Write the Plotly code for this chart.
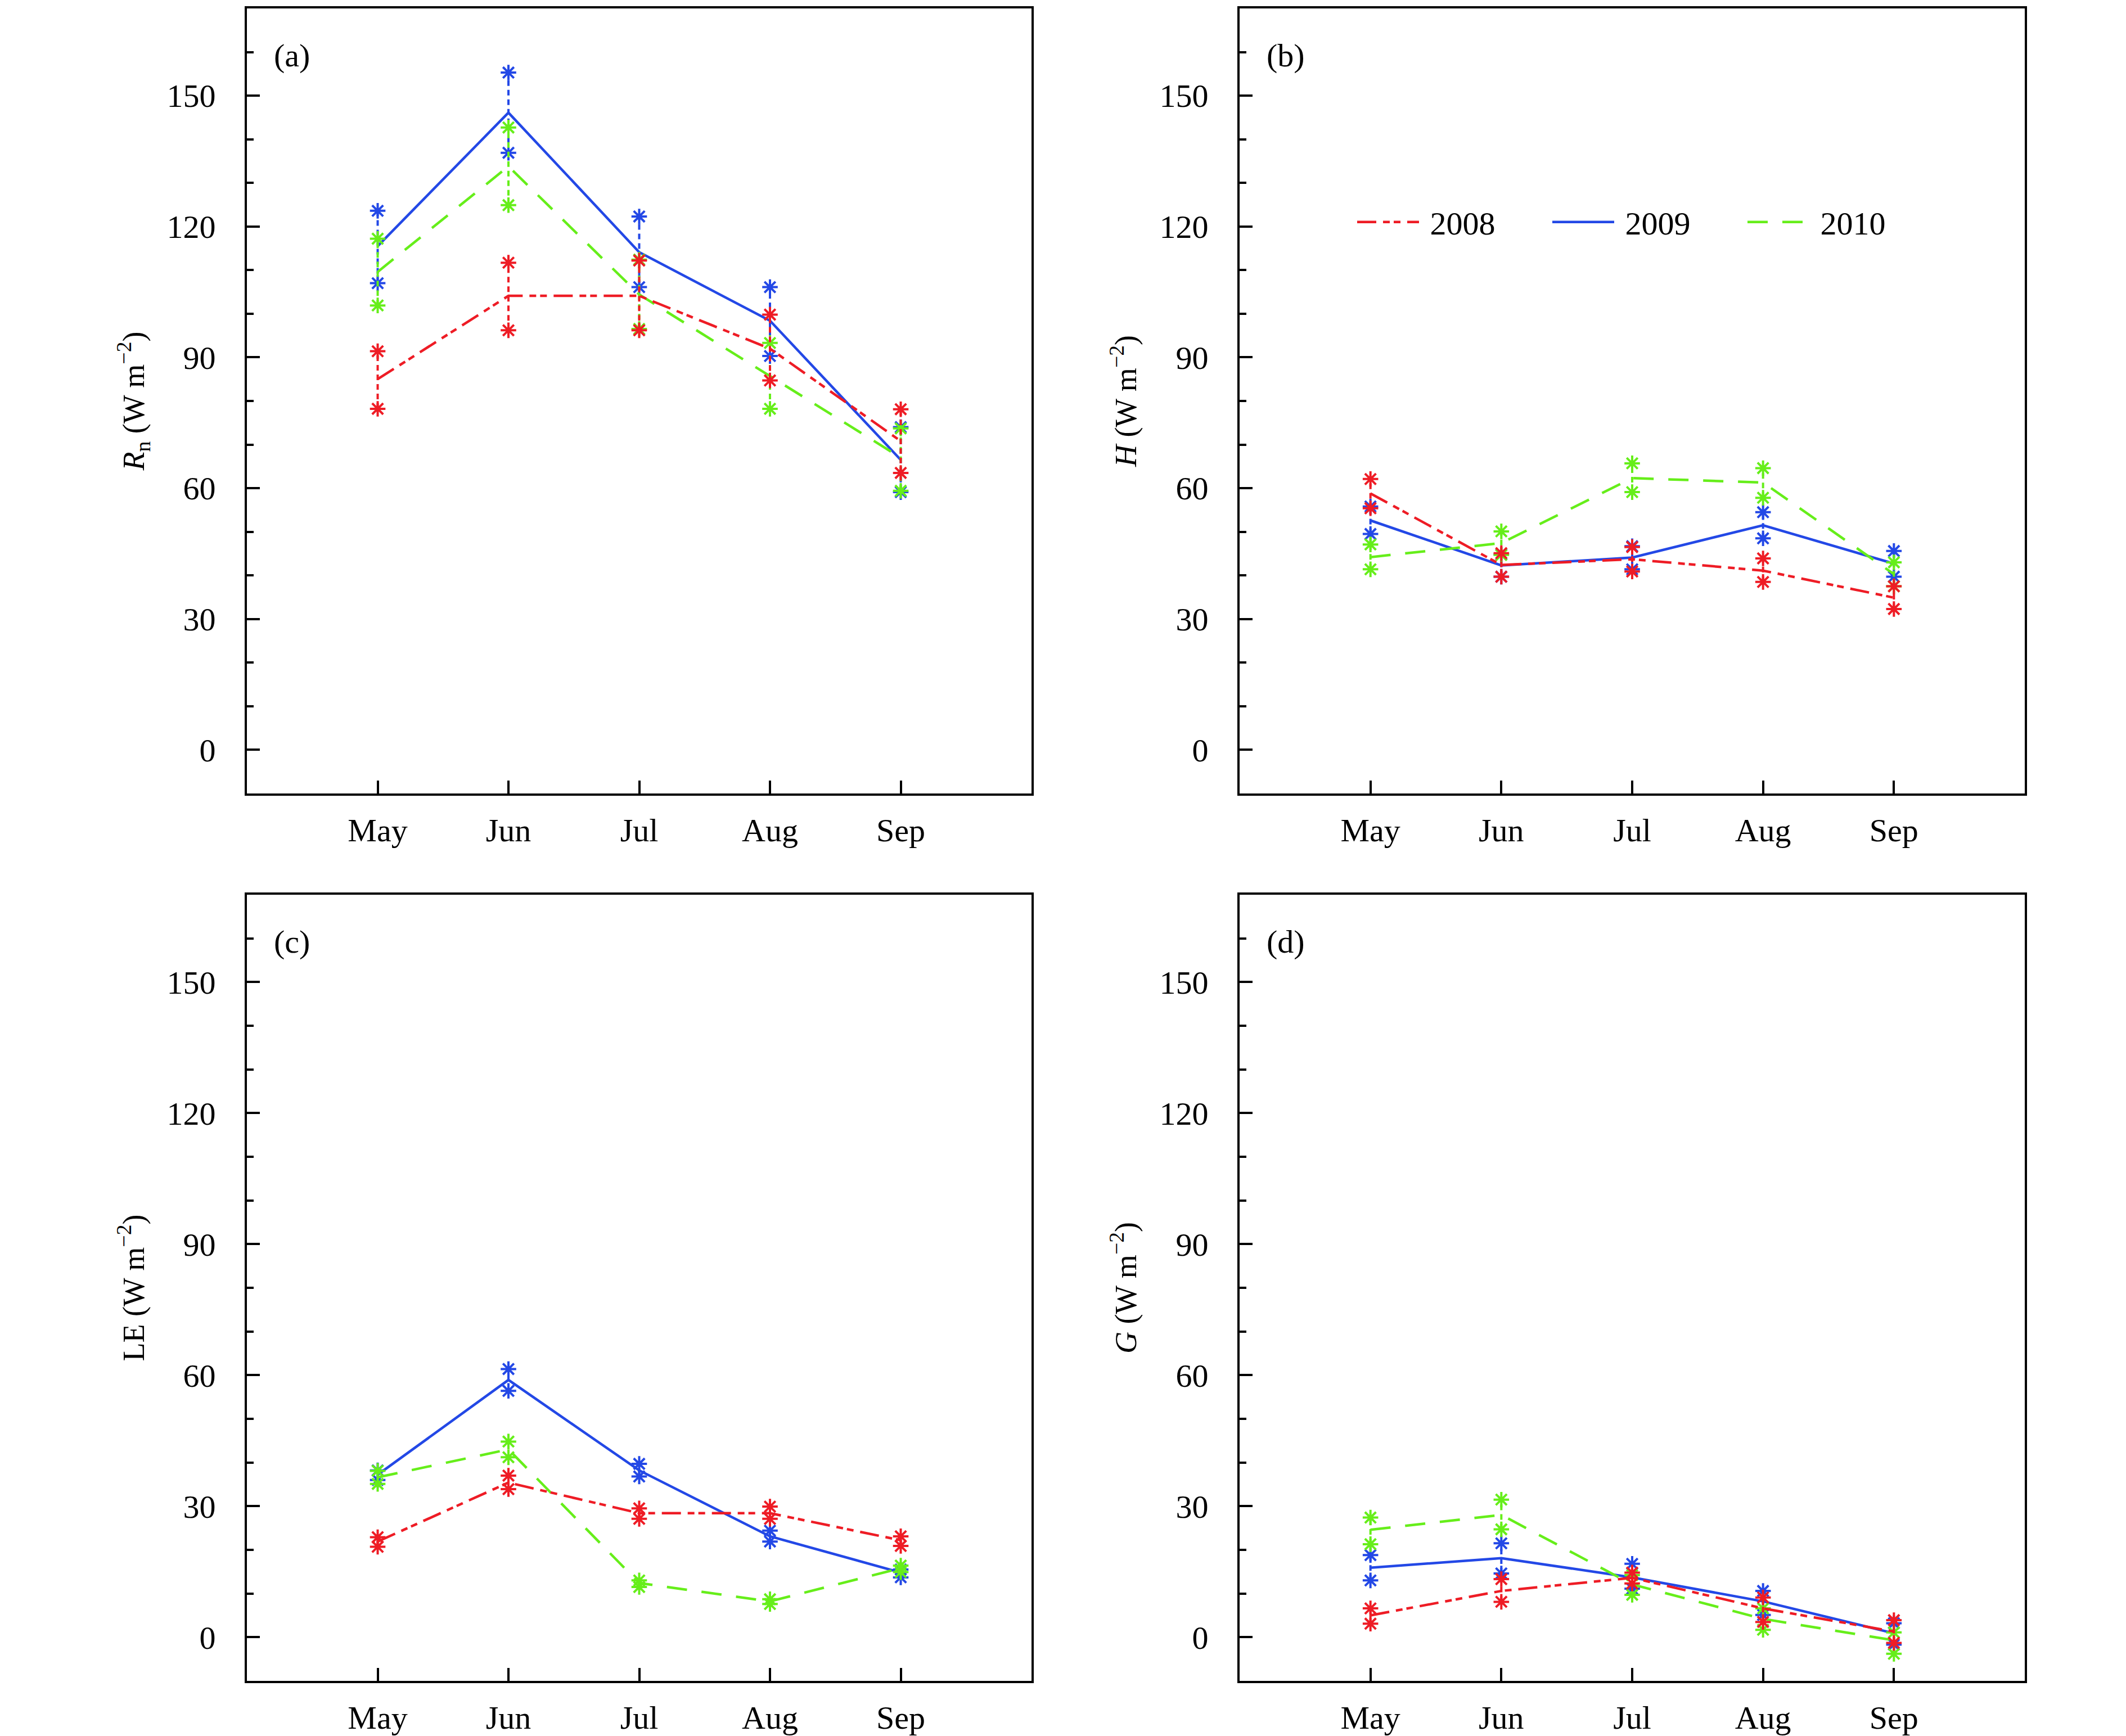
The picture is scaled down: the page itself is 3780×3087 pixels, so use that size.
import plotly.graph_objects as go

months = ["May", "Jun", "Jul", "Aug", "Sep"]
month_pos = [1, 2, 3, 4, 5]
years = ["2008", "2009", "2010"]

# (a) Rn
rn_2008_mean = [85.0, 104.1, 104.1, 92.0, 70.8]
rn_2008_hi = [91.4, 111.7, 112.2, 99.8, 78.1]
rn_2008_lo = [78.2, 96.2, 96.2, 84.7, 63.5]
rn_2009_mean = [115.5, 146.1, 114.1, 98.4, 66.5]
rn_2009_hi = [123.6, 155.3, 122.3, 106.1, 74.0]
rn_2009_lo = [107.0, 136.9, 106.1, 90.3, 59.1]
rn_2010_mean = [109.6, 133.8, 104.4, 85.7, 67.0]
rn_2010_hi = [117.2, 142.7, 112.4, 93.3, 73.7]
rn_2010_lo = [101.9, 124.9, 96.5, 78.2, 59.4]

# (b) H
h_2008_mean = [58.8, 42.4, 43.7, 41.1, 34.9]
h_2008_hi = [62.1, 45.1, 46.5, 43.9, 37.5]
h_2008_lo = [55.4, 39.7, 40.9, 38.5, 32.3]
h_2009_mean = [52.6, 42.3, 44.1, 51.5, 42.7]
h_2009_hi = [55.8, 44.8, 46.7, 54.5, 45.6]
h_2009_lo = [49.5, 39.7, 41.4, 48.5, 39.7]
h_2010_mean = [44.2, 47.4, 62.3, 61.3, 40.3]
h_2010_hi = [47.1, 50.1, 65.7, 64.6, 43.0]
h_2010_lo = [41.4, 44.7, 59.1, 57.8, 37.5]

# (c) LE
le_2008_mean = [21.9, 35.4, 28.4, 28.4, 22.2]
le_2008_hi = [22.9, 37.0, 29.5, 29.9, 23.1]
le_2008_lo = [20.7, 33.9, 27.1, 27.1, 20.9]
le_2009_mean = [37.2, 58.9, 38.2, 23.1, 14.8]
le_2009_hi = [38.2, 61.4, 39.7, 24.4, 15.5]
le_2009_lo = [36.0, 56.4, 36.8, 21.9, 13.7]
le_2010_mean = [36.6, 43.0, 12.4, 8.2, 15.8]
le_2010_hi = [38.1, 44.8, 13.0, 8.7, 16.4]
le_2010_lo = [35.1, 41.2, 11.5, 7.6, 14.9]

# (d) G
g_2008_mean = [5.0, 10.6, 13.6, 6.6, 1.3]
g_2008_hi = [6.6, 13.3, 14.8, 9.1, 3.9]
g_2008_lo = [3.1, 8.1, 12.3, 3.5, -1.3]
g_2009_mean = [15.9, 18.1, 13.7, 8.2, 0.9]
g_2009_hi = [18.8, 21.5, 16.8, 10.6, 3.2]
g_2009_lo = [13.0, 14.6, 11.1, 5.1, -1.7]
g_2010_mean = [24.6, 28.0, 12.1, 4.2, -0.7]
g_2010_hi = [27.4, 31.5, 14.2, 6.6, 1.1]
g_2010_lo = [21.3, 24.7, 9.7, 1.7, -3.8]

y_ticks = [0, 30, 60, 90, 120, 150]
panel_labels = ["(a)", "(b)", "(c)", "(d)"]
y_titles = [
    "<i>R</i><sub>n</sub> (W m<sup>\u22122</sup>)",
    "<i>H</i> (W m<sup>\u22122</sup>)",
    "LE (W m<sup>\u22122</sup>)",
    "<i>G</i> (W m<sup>\u22122</sup>)",
]

panels = [
    {"2008": (rn_2008_mean, rn_2008_hi, rn_2008_lo),
     "2009": (rn_2009_mean, rn_2009_hi, rn_2009_lo),
     "2010": (rn_2010_mean, rn_2010_hi, rn_2010_lo)},
    {"2008": (h_2008_mean, h_2008_hi, h_2008_lo),
     "2009": (h_2009_mean, h_2009_hi, h_2009_lo),
     "2010": (h_2010_mean, h_2010_hi, h_2010_lo)},
    {"2008": (le_2008_mean, le_2008_hi, le_2008_lo),
     "2009": (le_2009_mean, le_2009_hi, le_2009_lo),
     "2010": (le_2010_mean, le_2010_hi, le_2010_lo)},
    {"2008": (g_2008_mean, g_2008_hi, g_2008_lo),
     "2009": (g_2009_mean, g_2009_hi, g_2009_lo),
     "2010": (g_2010_mean, g_2010_hi, g_2010_lo)},
]

colors = {"2008": "#EE1C25", "2009": "#2348E6", "2010": "#66EE1A"}
dashes = {"2008": "34px,12px,12px,7px,12px,12px", "2009": "solid", "2010": "36px,26px"}
draw_order = ["2009", "2010", "2008"]

W, H = 3780, 3087
FONT = "Liberation Serif"
x_domains = [(431 / W, 1826 / W), (2196 / W, 3592 / W)]
y_domains = [(1 - 1403 / H, 1 - 7 / H), (1 - 2981 / H, 1 - 1583 / H)]

fig = go.Figure()

for i, pdata in enumerate(panels):
    ax = "" if i == 0 else str(i + 1)
    xref, yref = "x" + ax, "y" + ax
    for yr in draw_order:
        mean, hi, lo = pdata[yr]
        c = colors[yr]
        # vertical dotted connectors
        cx, cy = [], []
        for xp, a, b in zip(month_pos, lo, hi):
            cx += [xp, xp, None]
            cy += [a, b, None]
        fig.add_trace(go.Scatter(x=cx, y=cy, mode="lines", xaxis=xref, yaxis=yref,
                                 line=dict(color=c, width=4, dash="10px,7px"),
                                 showlegend=False, hoverinfo="skip"))
        # mean line
        fig.add_trace(go.Scatter(x=month_pos, y=mean, mode="lines", xaxis=xref, yaxis=yref,
                                 name="\u00a0" + yr, legendrank=int(yr),
                                 line=dict(color=c, width=4.5, dash=dashes[yr]),
                                 showlegend=(i == 1)))
        # asterisk markers
        fig.add_trace(go.Scatter(x=month_pos + month_pos, y=hi + lo, mode="markers",
                                 xaxis=xref, yaxis=yref,
                                 marker=dict(symbol="asterisk-open", size=23, color=c,
                                             line=dict(color=c, width=4)),
                                 showlegend=False))

layout = dict(
    width=W, height=H,
    paper_bgcolor="white", plot_bgcolor="white",
    margin=dict(l=0, r=0, t=0, b=0),
    font=dict(family=FONT, size=56, color="black"),
    showlegend=True,
    legend=dict(orientation="h", x=2400 / W, y=1 - 387 / H, xanchor="left", yanchor="middle",
                bgcolor="rgba(0,0,0,0)", font=dict(family=FONT, size=58),
                itemwidth=110, entrywidth=222, entrywidthmode="pixels",
                traceorder="normal"),
    annotations=[],
)

for i in range(4):
    ax = "" if i == 0 else str(i + 1)
    col, row = i % 2, i // 2
    layout["xaxis" + ax] = dict(
        domain=list(x_domains[col]), anchor="y" + ax, range=[0, 6],
        tickvals=month_pos, ticktext=months, ticks="inside", ticklen=23, tickwidth=4,
        tickcolor="black", showline=True, linewidth=4, linecolor="black", mirror=True,
        showgrid=False, zeroline=False, ticklabelstandoff=11,
        tickfont=dict(family=FONT, size=58),
    )
    layout["yaxis" + ax] = dict(
        domain=list(y_domains[row]), anchor="x" + ax, range=[-10, 170],
        tickvals=y_ticks, ticks="inside", ticklen=23, tickwidth=4, tickcolor="black",
        minor=dict(dtick=10, tick0=0, ticks="inside", ticklen=12, tickwidth=4, tickcolor="black"),
        showline=True, linewidth=4, linecolor="black", mirror=True,
        showgrid=False, zeroline=False, ticklabelstandoff=40,
        tickfont=dict(family=FONT, size=58),
        title=dict(text=y_titles[i], font=dict(family=FONT, size=54), standoff=24),
    )
    layout["annotations"].append(dict(
        text=panel_labels[i], xref="x" + ax + " domain", yref="y" + ax + " domain",
        x=0.033, y=0.94, xanchor="left", yanchor="middle", showarrow=False,
        font=dict(family=FONT, size=58)))

fig.update_layout(**layout)
fig.write_html("out.html")
